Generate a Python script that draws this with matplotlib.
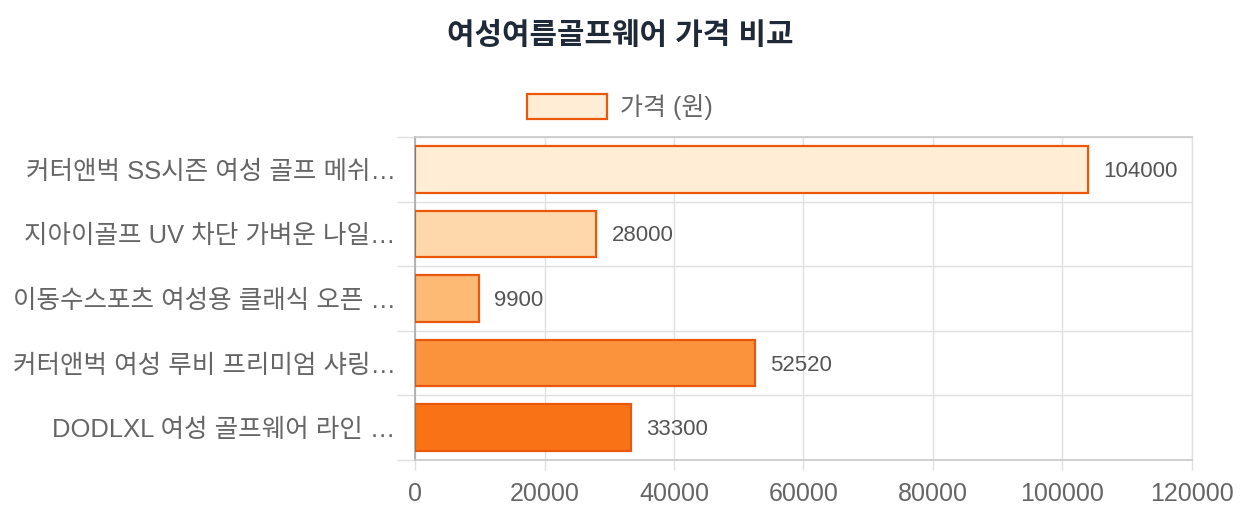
import matplotlib
matplotlib.use("Agg")
import matplotlib.pyplot as plt
import numpy as np

categories = [
    "커터앤벅 SS시즌 여성 골프 메쉬…",
    "지아이골프 UV 차단 가벼운 나일…",
    "이동수스포츠 여성용 클래식 오픈 …",
    "커터앤벅 여성 루비 프리미엄 샤링…",
    "DODLXL 여성 골프웨어 라인 …",
]
prices = [104000, 28000, 9900, 52520, 33300]
bar_colors = ["#FFEDD5", "#FED7AA", "#FDBA74", "#FB923C", "#F97316"]
edge_color = "#EA580C"
series_label = "가격 (원)"
title = "여성여름골프웨어 가격 비교"
xticks = [0, 20000, 40000, 60000, 80000, 100000, 120000]

plt.rcParams["font.family"] = ["Liberation Sans", "Noto Sans CJK KR", "DejaVu Sans"]

fig = plt.figure(figsize=(12.4, 5.2), dpi=100)
ax = fig.add_axes([415 / 1240, 1 - 460 / 520, (1192 - 415) / 1240, (460 - 137) / 520])

y = np.arange(len(categories))
bars = ax.barh(y, prices, height=0.72, color=bar_colors, edgecolor=edge_color,
               linewidth=1.6, label=series_label, zorder=3)
ax.set_xlim(0, 120000)
ax.set_ylim(len(categories) - 0.5, -0.5)

ax.set_xticks(xticks)
ax.set_xticklabels([str(v) for v in xticks])
ax.set_yticks(y)
ax.set_yticklabels(categories)
ax.set_yticks(np.arange(-0.5, len(categories)), minor=True)

ax.tick_params(axis="y", which="major", length=0, pad=14, labelsize=18.4, labelcolor="#666666")
ax.tick_params(axis="y", which="minor", length=13, width=1, color="#e0e0e0")
ax.tick_params(axis="x", which="major", length=7, width=1, color="#e0e0e0", pad=9,
               labelsize=18, labelcolor="#666666")

ax.grid(axis="x", which="major", color="#e0e0e0", linewidth=1, zorder=0)
ax.grid(axis="y", which="minor", color="#e0e0e0", linewidth=1, zorder=0)

for s in ["top", "bottom"]:
    ax.spines[s].set_color("#c8c8c8")
    ax.spines[s].set_linewidth(1.2)
ax.spines["right"].set_color("#e0e0e0")
ax.spines["right"].set_linewidth(1)
ax.spines["left"].set_color("#a8a8a8")
ax.spines["left"].set_linewidth(1.2)

for b, v in zip(bars, prices):
    ax.annotate(str(v), xy=(v, b.get_y() + b.get_height() / 2), xytext=(11, -1.5),
                textcoords="offset points", va="center", ha="left",
                fontsize=16, color="#555555", zorder=4)

fig.text(0.5, 1 - 36 / 520, title, ha="center", va="center", fontsize=21.5,
         fontweight="bold", color="#1F2937")

leg = ax.legend(loc="center", bbox_to_anchor=(0.5, 1 - 107 / 520), bbox_transform=fig.transFigure,
                frameon=False, fontsize=18, handlelength=3.2, handleheight=1.2,
                handletextpad=0.5, labelcolor="#666666")
h = leg.legend_handles[0]
h.set_facecolor(bar_colors[0])
h.set_edgecolor(edge_color)
h.set_linewidth(1.6)

fig.savefig("out.png", dpi=100, facecolor="white")
